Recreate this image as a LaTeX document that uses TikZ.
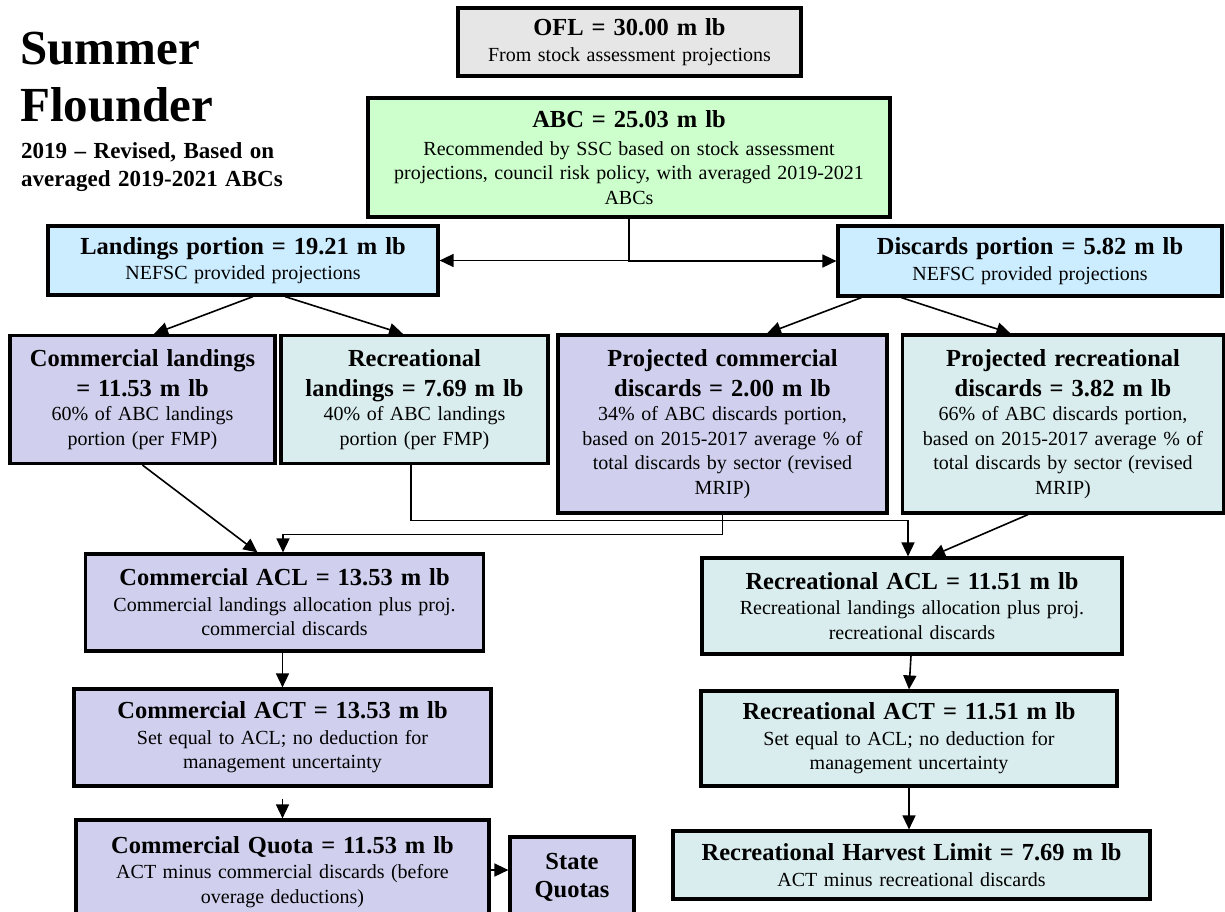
\documentclass[tikz,border=0pt]{standalone}
\usepackage{fontspec}
\setmainfont{Liberation Serif}[WordSpace=1.3]
\usetikzlibrary{arrows.meta}
\definecolor{oflgray}{RGB}{231,230,230}
\definecolor{abcgreen}{RGB}{204,255,204}
\definecolor{portblue}{RGB}{204,236,255}
\definecolor{commlav}{RGB}{208,208,238}
\definecolor{recteal}{RGB}{218,237,238}
\tikzset{
  box/.style={draw=black, line width=3.2pt, align=center, inner sep=0pt,
    font=\fontsize{20}{24.5}\selectfont},
  arr/.style={line width=1.6pt, -{Triangle[length=14pt,width=13pt]}},
}
\newcommand{\bt}[1]{{\fontsize{24.5}{30}\selectfont\bfseries #1}}
\begin{document}
\begin{tikzpicture}[x=1pt,y=-1pt]
\useasboundingbox (0,0) rectangle (1225,911);
\clip (0,0) rectangle (1225,911);
\fill[white] (0,0) rectangle (1225,911);

% title
\node[anchor=north west, align=left, inner sep=0pt,
  font=\fontsize{49}{57}\selectfont\bfseries] (title) at (20,32) {Summer\\Flounder};
\node[anchor=north west, align=left, inner sep=0pt,
  font=\fontsize{23}{28}\selectfont\bfseries] (subtitle) at (21,142) {2019 -- Revised, Based on\\averaged 2019-2021 ABCs};

% boxes
\node[box, fill=oflgray, minimum width=343, minimum height=68] (ofl) at (629.5,42)
  {\bt{OFL = 30.00 m lb}\\[2pt]From stock assessment projections};
\node[box, fill=abcgreen, minimum width=522, minimum height=119] (abc) at (629,157.5)
  {\bt{ABC = 25.03 m lb}\\[3pt]Recommended by SSC based on stock assessment\\projections, council risk policy, with averaged 2019-2021\\ABCs};
\node[box, fill=portblue, minimum width=390, minimum height=69] (land) at (243,260.5)
  {\bt{Landings portion = 19.21 m lb}\\[1pt]NEFSC provided projections};
\node[box, fill=portblue, minimum width=384, minimum height=70] (disc) at (1030,261)
  {\bt{Discards portion = 5.82 m lb}\\[1pt]NEFSC provided projections};
\node[box, fill=commlav, minimum width=265, minimum height=128] (cland) at (142.5,399.5)
  {\bt{Commercial landings}\\[5pt]\bt{= 11.53 m lb}\\60\% of ABC landings\\portion (per FMP)};
\node[box, fill=recteal, minimum width=267, minimum height=128] (rland) at (414.5,399.5)
  {\bt{Recreational}\\[5pt]\bt{landings = 7.69 m lb}\\40\% of ABC landings\\portion (per FMP)};
\node[box, fill=commlav, minimum width=329, minimum height=178] (pcd) at (722.5,424)
  {\bt{Projected commercial}\\[5pt]\bt{discards = 2.00 m lb}\\34\% of ABC discards portion,\\based on 2015-2017 average \% of\\total discards by sector (revised\\MRIP)};
\node[box, fill=recteal, minimum width=321, minimum height=178] (prd) at (1063,424)
  {\bt{Projected recreational}\\[5pt]\bt{discards = 3.82 m lb}\\66\% of ABC discards portion,\\based on 2015-2017 average \% of\\total discards by sector (revised\\MRIP)};
\node[box, fill=commlav, minimum width=398, minimum height=97] (cacl) at (284.5,602.5)
  {\bt{Commercial ACL = 13.53 m lb}\\[1pt]Commercial landings allocation plus proj.\\commercial discards};
\node[box, fill=recteal, minimum width=420, minimum height=96] (racl) at (912,606)
  {\bt{Recreational ACL = 11.51 m lb}\\[1pt]Recreational landings allocation plus proj.\\recreational discards};
\node[box, fill=commlav, minimum width=417, minimum height=97] (cact) at (282.5,737.5)
  {\bt{Commercial ACT = 13.53 m lb}\\[1pt]Set equal to ACL; no deduction for\\management uncertainty};
\node[box, fill=recteal, minimum width=416, minimum height=95] (ract) at (909,738.5)
  {\bt{Recreational ACT = 11.51 m lb}\\[1pt]Set equal to ACL; no deduction for\\management uncertainty};
\node[box, fill=commlav, minimum width=413, minimum height=104] (cquota) at (282.5,872)
  {\bt{Commercial Quota = 11.53 m lb}\\[1pt]ACT minus commercial discards (before\\overage deductions)};
\node[box, fill=commlav, minimum width=124, minimum height=81] (squota) at (572,877.5)
  {\bt{State}\\[4pt]\bt{Quotas}};
\node[box, fill=recteal, minimum width=477, minimum height=68] (rhl) at (911.5,865)
  {\bt{Recreational Harvest Limit = 7.69 m lb}\\[1pt]ACT minus recreational discards};

% connectors
\draw[arr] (abc.south) |- (land.east);
\draw[arr] (abc.south) |- (disc.west);
\draw[arr] ([xshift=10pt]land.south) -- ([xshift=11.5pt]cland.north);
\draw[arr] ([xshift=42pt]land.south) -- ([xshift=-11.5pt]rland.north);
\draw[arr] ([xshift=25pt]disc.south west) -- ([xshift=44.5pt]pcd.north);
\draw[arr] ([xshift=65pt]disc.south west) -- ([xshift=-52.5pt]prd.north);
\draw[arr] (cland.south) -- ([xshift=-27pt]cacl.north);
\draw[arr] (pcd.south) -- ++(0,20) -| ([xshift=-1.5pt]cacl.north);
\draw[arr] ([xshift=-3.5pt]rland.south) -- ++(0,55.5) -| ([xshift=-4pt]racl.north);
\draw[arr] ([xshift=-35pt]prd.south) -- ([xshift=19pt]racl.north);
\draw[arr] (cact.north |- cacl.south) -- (cact.north);
\draw[arr] ([yshift=-11pt]cact.south) -- (cquota.north);
\draw[arr] ([xshift=-1pt]racl.south) -- (ract.north);
\draw[arr] (ract.south) -- (ract.south |- rhl.north);
\coordinate (sq) at ([yshift=7.5pt]squota.west);
\draw[arr] (sq -| cquota.east) -- (sq);
\end{tikzpicture}
\end{document}
